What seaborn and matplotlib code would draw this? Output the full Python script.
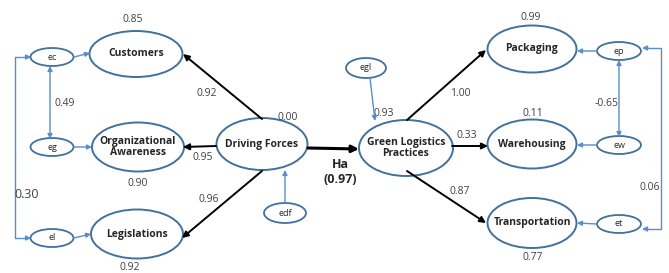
import matplotlib.pyplot as plt
import seaborn as sns
from matplotlib.patches import Ellipse

sns.set_style('white')
plt.rcParams['font.family'] = ['Open Sans', 'DejaVu Sans']

# Model values
latent_names = ['Customers', 'Organizational\nAwareness', 'Legislations',
                'Driving Forces', 'Green Logistics\nPractices',
                'Packaging', 'Warehousing', 'Transportation']
r_squared = ['0.85', '0.90', '0.92', '0.00', '0.93', '0.99', '0.11', '0.77']
error_names = ['ec', 'eg', 'el', 'edf', 'egl', 'ep', 'ew', 'et']
df_loadings = ['0.92', '0.95', '0.96']
glp_loadings = ['1.00', '0.33', '0.87']
path_label = 'Ha\n(0.97)'
error_covs = ['0.49', '0.30', '-0.65', '0.06']

# Layout (pixel coordinates)
latent_pos = [(136, 54), (138, 147), (137, 234), (262, 144), (406, 148),
              (532, 49), (532, 144), (532, 223)]
latent_size = [(93, 46), (92, 49), (92, 49), (91, 52), (94, 56),
               (89, 47), (89, 49), (89, 50)]
r2_pos = [(133, 20), (138, 183), (130, 268), (288, 117), (384, 113),
          (531, 17), (533, 113), (533, 258)]
error_pos = [(52, 57), (52, 147), (52, 238), (285, 213), (366, 68),
             (619, 51), (619, 145), (619, 224)]
error_size = [(43, 18), (43, 18), (43, 18), (42, 20), (40, 20),
              (44, 18), (44, 18), (44, 18)]

edge_col = '#41719C'
blue = '#5B8CCB'
txt_col = '#404040'

fig, ax = plt.subplots(figsize=(6.69, 2.73), dpi=100)
fig.subplots_adjust(0, 0, 1, 1)
ax.set_xlim(0, 669)
ax.set_ylim(273, 0)
ax.axis('off')


def arrow(p0, p1, color='black', lw=1.4, ms=9, style='-|>'):
    ax.annotate('', xy=p1, xytext=p0,
                arrowprops=dict(arrowstyle=style, color=color, lw=lw,
                                mutation_scale=ms, shrinkA=0, shrinkB=0))


# latent ellipses
for name, (x, y), (w, h), r2, (rx, ry) in zip(latent_names, latent_pos,
                                              latent_size, r_squared, r2_pos):
    ax.add_patch(Ellipse((x, y), w, h, fill=False, ec=edge_col, lw=1.4))
    ax.text(x, y, name, ha='center', va='center', fontsize=7.5,
            fontweight='bold', color='#262626', linespacing=1.1)
    ax.text(rx, ry, r2, ha='center', va='center', fontsize=7.5, color=txt_col)

# error ellipses
for name, (x, y), (w, h) in zip(error_names, error_pos, error_size):
    ax.add_patch(Ellipse((x, y), w, h, fill=False, ec=edge_col, lw=1.3))
    ax.text(x, y, name, ha='center', va='center', fontsize=6.5, color='#262626')

# error -> latent arrows
arrow((74, 57), (90, 53), blue, 1, 7)
arrow((74, 147), (92, 147), blue, 1, 7)
arrow((74, 238), (91, 234), blue, 1, 7)
arrow((285, 203), (285, 170), blue, 1, 7)
arrow((370, 78), (375, 121), blue, 1, 7)
arrow((597, 51), (577, 51), blue, 1, 7)
arrow((597, 145), (577, 145), blue, 1, 7)
arrow((597, 224), (577, 223), blue, 1, 7)

# Driving Forces loadings
arrow((262, 119), (183, 54))
arrow((216, 146), (183, 147))
arrow((262, 171), (182, 238))
for lab, (x, y) in zip(df_loadings, [(207, 94), (203, 158), (209, 200)]):
    ax.text(x, y, lab, ha='center', va='center', fontsize=7.5, color=txt_col)

# structural path
arrow((308, 148), (359, 149), lw=2.2, ms=10)
ax.text(340, 172, path_label, ha='center', va='center', fontsize=9,
        fontweight='bold', color='#262626', linespacing=1.2)

# Green Logistics loadings
arrow((407, 120), (486, 50))
arrow((452, 146), (488, 146))
arrow((407, 171), (486, 223))
for lab, (x, y) in zip(glp_loadings, [(460, 94), (467, 136), (460, 192)]):
    ax.text(x, y, lab, ha='center', va='center', fontsize=7.5, color=txt_col)

# error covariances
arrow((50, 66), (50, 139), blue, 1, 7, '<|-|>')
ax.plot([28, 15, 15, 28], [57, 57, 238, 238], color=blue, lw=1)
arrow((26, 57), (31, 57), blue, 1, 7)
arrow((26, 238), (31, 238), blue, 1, 7)
arrow((619, 60), (619, 137), blue, 1, 7, '<|-|>')
ax.plot([646, 661, 661, 646], [48, 48, 229, 229], color=blue, lw=1)
arrow((648, 48), (642, 48), blue, 1, 7)
arrow((648, 229), (642, 229), blue, 1, 7)
for lab, (x, y), fs in zip(error_covs, [(65, 103), (27, 195), (607, 103), (650, 187)],
                           [7.5, 9, 7.5, 7.5]):
    ax.text(x, y, lab, ha='center', va='center', fontsize=fs, color=txt_col)

plt.savefig('out.png', dpi=100, facecolor='white')
